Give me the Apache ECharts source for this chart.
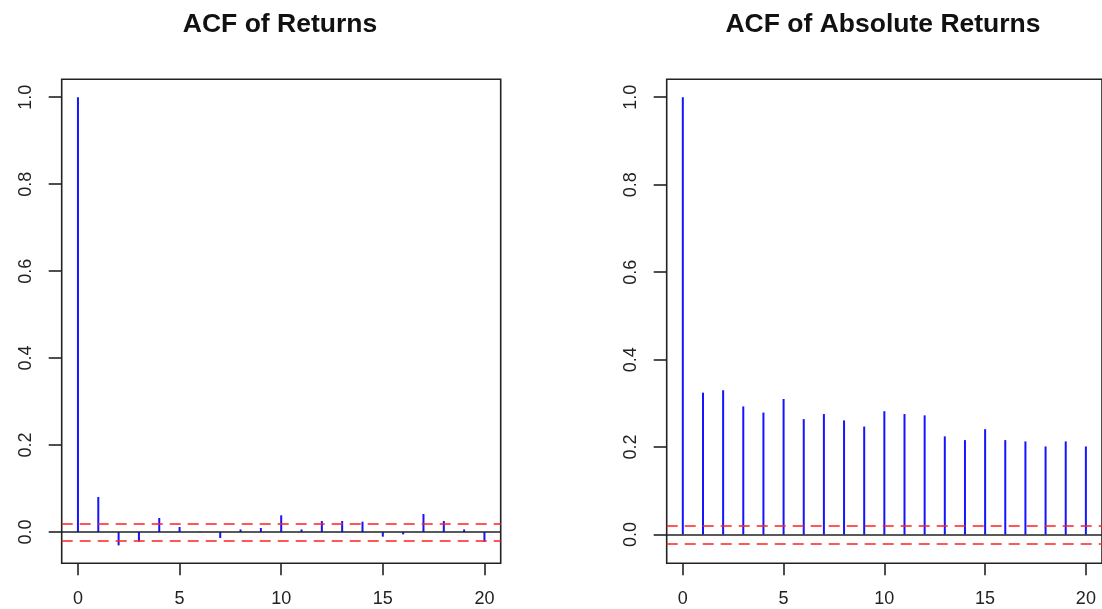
<!DOCTYPE html>
<html>
<head>
<meta charset="utf-8">
<script src="https://cdn.jsdelivr.net/npm/echarts@6/dist/echarts.min.js"></script>
<style>
  html, body { margin: 0; padding: 0; background: #ffffff; }
  #chart { width: 1102px; height: 609px; }
</style>
</head>
<body>
<div id="chart"></div>
<script>
// Lags shown on the horizontal axis
const lags = [0, 1, 2, 3, 4, 5, 6, 7, 8, 9, 10, 11, 12, 13, 14, 15, 16, 17, 18, 19, 20];

// Sample autocorrelation of returns
const acfReturns = [1.0, 0.0806, -0.0307, -0.0223, 0.0322, 0.0115, 0.0010, -0.0138, 0.0060, 0.0092,
  0.0384, 0.0060, 0.0253, 0.0253, 0.0238, -0.0107, -0.0054, 0.0415, 0.0253, 0.0060, -0.0223];

// Sample autocorrelation of absolute returns
const acfAbsReturns = [1.0, 0.3245, 0.3300, 0.2930, 0.2790, 0.3100, 0.2640, 0.2756, 0.2610, 0.2470,
  0.2820, 0.2756, 0.2726, 0.2245, 0.2160, 0.2410, 0.2160, 0.2130, 0.2015, 0.2130, 0.2015];

// 95% confidence bound (±1.96/sqrt(n))
const confLimit = 0.0247;

const xTicks = [0, 5, 10, 15, 20];
const yTicks = [0, 0.2, 0.4, 0.6, 0.8, 1.0];
const panelTitles = ['ACF of Returns', 'ACF of Absolute Returns'];

const FONT = "'Liberation Sans', Arial, Helvetica, sans-serif";
const INK = '#222222';

// Axis limits extended by 4% on each side, as in base R graphics
function padRange(lo, hi) {
  const pad = 0.04 * (hi - lo);
  return [lo - pad, hi + pad];
}

const xRange = padRange(Math.min(...lags), Math.max(...lags));

function yRange(values) {
  const lo = Math.min(-confLimit, ...values);
  const hi = Math.max(confLimit, ...values);
  return padRange(lo, hi);
}

const panels = [
  { values: acfReturns, left: 61.7, titleCenter: 280 },
  { values: acfAbsReturns, left: 666.7, titleCenter: 883 }
];
const gridTop = 79.3;
const gridWidth = 439;
const gridHeight = 484;

const option = {
  animation: false,
  backgroundColor: '#ffffff',
  title: panels.map((p, i) => ({
    text: panelTitles[i],
    left: p.titleCenter,
    top: 11,
    padding: 0,
    textAlign: 'center',
    textStyle: { fontFamily: FONT, fontWeight: 'bold', fontSize: 26.5, color: '#111111' }
  })),
  grid: panels.map(p => ({
    left: p.left, top: gridTop, width: gridWidth, height: gridHeight,
    show: true, borderColor: INK, borderWidth: 1.6, backgroundColor: 'transparent',
    containLabel: false
  })),
  xAxis: panels.map((p, i) => ({
    type: 'value', gridIndex: i, position: 'bottom',
    min: xRange[0], max: xRange[1],
    axisLine: { show: false, onZero: false },
    splitLine: { show: false },
    axisTick: { show: true, inside: false, length: 12, lineStyle: { color: INK, width: 1.6 }, customValues: xTicks },
    axisLabel: {
      show: true, customValues: xTicks, margin: 27,
      fontFamily: FONT, fontSize: 18, color: INK,
      formatter: v => String(v)
    }
  })),
  yAxis: panels.map((p, i) => {
    const r = yRange(p.values);
    return {
      type: 'value', gridIndex: i, position: 'left',
      min: r[0], max: r[1],
      axisLine: { show: false, onZero: false },
      splitLine: { show: false },
      axisTick: { show: true, inside: false, length: 13, lineStyle: { color: INK, width: 1.6 }, customValues: yTicks },
      axisLabel: {
        show: true, customValues: yTicks, rotate: 90, margin: 27,
        fontFamily: FONT, fontSize: 18, color: INK,
        formatter: v => v.toFixed(1)
      }
    };
  }),
  series: panels.map((p, i) => ({
    type: 'bar',
    xAxisIndex: i, yAxisIndex: i,
    barWidth: 2,
    itemStyle: { color: '#1414ff' },
    data: lags.map((lag, k) => [lag, p.values[k]]),
    markLine: {
      silent: true, symbol: 'none', animation: false,
      label: { show: false },
      data: [
        { yAxis: 0, lineStyle: { color: INK, width: 1.6, type: 'solid' } },
        { yAxis: confLimit, lineStyle: { color: '#ff2020', width: 1.6, type: [11, 7] } },
        { yAxis: -confLimit, lineStyle: { color: '#ff2020', width: 1.6, type: [11, 7] } }
      ]
    }
  }))
};

const chart = echarts.init(document.getElementById('chart'), null, { renderer: 'canvas' });
chart.setOption(option);
</script>
</body>
</html>
